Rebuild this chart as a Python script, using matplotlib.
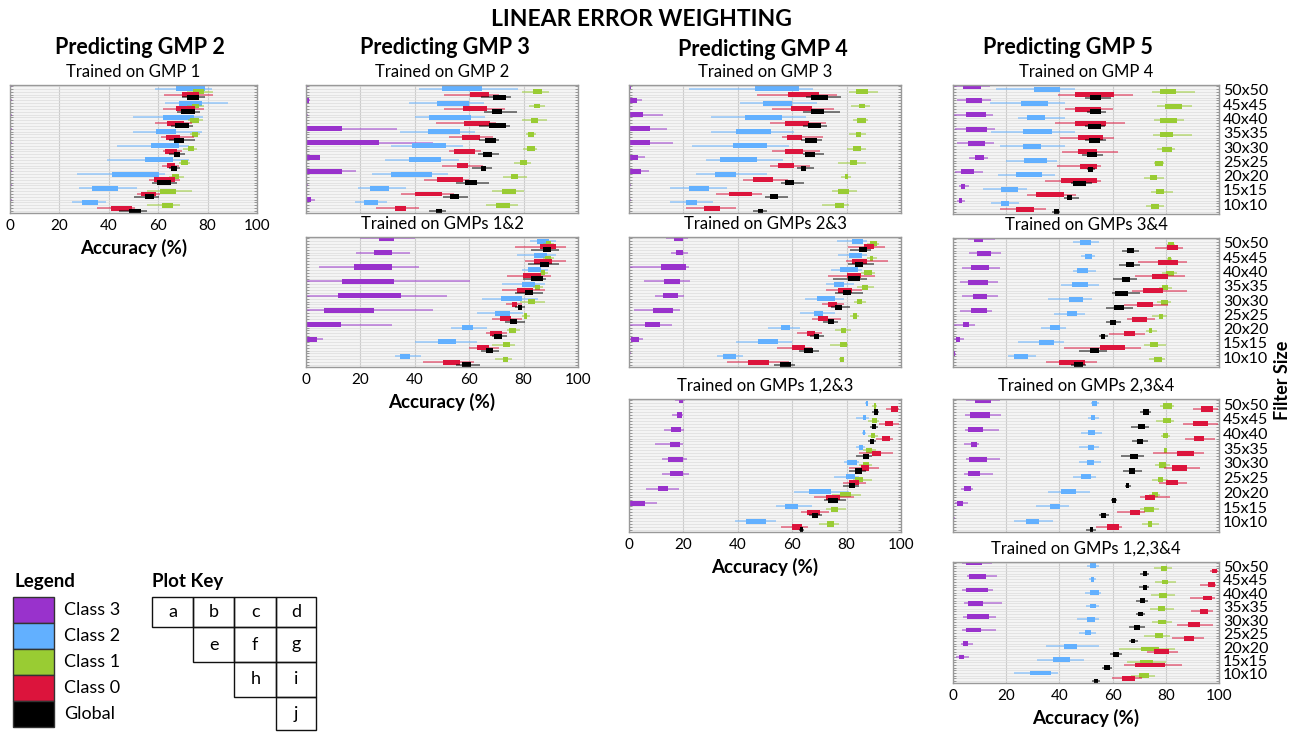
import matplotlib.pyplot as plt
from matplotlib.patches import Rectangle

plt.rcParams['font.family'] = ['Lato', 'DejaVu Sans']

W, H = 1299, 732

# filter sizes, listed top (50x50) to bottom (10x10)
sizes = ["50x50", "45x45", "40x40", "35x35", "30x30", "25x25", "20x20", "15x15", "10x10"]
classes = ["Class 3", "Class 2", "Class 1", "Class 0", "Global"]
colors = ["#9932cc", "#62b0ff", "#99cc33", "#dc143c", "#000000"]
ticks = [0, 20, 40, 60, 80, 100]

# each entry: (whisker low, q1, q3, whisker high), 50x50 first
tiny = (0, 0, 0.5, 0.8)

gmp2_on1 = {
    "Class 3": [tiny] * 9,
    "Class 2": [(58.9, 67.2, 78.8, 81.7), (62.6, 68.5, 77.7, 88.2), (49.9, 61.8, 74.3, 78.1),
                (49.9, 59.3, 67.2, 77.7), (43.4, 56.9, 68.3, 72.3), (39.1, 54.8, 66.0, 72.3),
                (27.0, 41.1, 60.2, 62.9), (28.0, 33.3, 43.7, 51.5), (25.0, 29.0, 35.8, 38.7)],
    "Class 1": [(71.6, 74.0, 78.4, 82.0), (71.6, 73.7, 76.7, 78.4), (72.0, 73.0, 76.5, 78.1),
                (73.0, 73.7, 76.0, 77.0), (70.0, 72.0, 74.3, 75.7), (68.3, 69.4, 72.0, 72.7),
                (64.2, 65.6, 68.5, 70.3), (55.5, 60.9, 67.2, 73.7), (55.5, 61.6, 66.0, 69.0)],
    "Class 0": [(62.2, 69.6, 76.7, 82.1), (62.0, 67.2, 75.0, 78.4), (58.9, 63.6, 70.3, 73.7),
                (61.3, 63.2, 69.0, 74.3), (61.8, 62.9, 67.6, 69.6), (61.6, 63.6, 66.9, 68.3),
                (56.2, 58.2, 66.9, 69.0), (51.5, 53.2, 59.3, 60.9), (35.3, 40.7, 49.5, 50.8)],
    "Global": [(69.6, 71.6, 76.6, 79.0), (67.6, 69.2, 75.0, 77.0), (65.0, 66.9, 72.3, 74.0),
               (64.2, 66.5, 70.3, 75.0), (64.2, 66.3, 69.0, 71.0), (64.2, 65.0, 67.6, 69.0),
               (57.5, 59.5, 65.0, 67.6), (50.1, 54.8, 58.2, 60.2), (44.1, 48.1, 53.1, 55.5)],
}

gmp3_on2 = {
    "Class 3": [tiny, (0, 0, 1.0, 1.5), tiny, (0, 0, 13.3, 33.4), (0, 0, 26.8, 46.6),
                (0, 0, 5.1, 5.1), (0, 0, 13.3, 18.3), tiny, (0, 0, 1.7, 3.3)],
    "Class 2": [(41.5, 49.9, 64.6, 77.9), (37.8, 48.0, 60.0, 65.5), (39.9, 45.1, 60.6, 65.7),
                (34.4, 44.8, 56.6, 62.2), (31.3, 38.8, 51.5, 57.8), (28.9, 38.0, 49.6, 56.3),
                (24.4, 31.3, 46.2, 52.3), (19.1, 23.7, 30.4, 36.6), (17.9, 21.2, 26.5, 29.9)],
    "Class 1": [(79.3, 83.5, 86.8, 89.3), (82.0, 84.0, 86.2, 88.0), (79.3, 82.6, 85.4, 88.7),
                (81.0, 81.7, 83.8, 84.4), (79.9, 81.1, 84.1, 85.0), (76.5, 78.5, 81.3, 82.9),
                (72.4, 75.5, 77.9, 81.1), (68.2, 72.2, 77.3, 80.1), (66.3, 69.8, 74.9, 77.9)],
    "Class 0": [(50.9, 60.2, 67.3, 71.0), (50.9, 57.9, 66.5, 73.0), (47.8, 58.2, 67.6, 69.8),
                (52.4, 57.2, 63.9, 68.9), (52.7, 54.5, 62.2, 64.3), (50.0, 55.5, 59.6, 64.9),
                (43.2, 48.0, 57.9, 60.0), (34.8, 40.1, 49.9, 54.5), (25.9, 32.6, 36.6, 41.7)],
    "Global": [(64.3, 68.9, 73.7, 75.2), (65.5, 68.5, 72.2, 77.7), (63.7, 67.3, 73.4, 74.9),
               (63.7, 65.9, 70.0, 71.0), (63.3, 64.9, 68.3, 71.0), (61.2, 64.3, 66.3, 68.3),
               (55.1, 58.5, 63.0, 67.1), (50.2, 53.0, 56.3, 59.4), (45.1, 47.8, 49.9, 51.5)],
}

gmp4_on3 = {
    "Class 3": [(0, 0, 0.9, 0.9), (0, 0, 3.1, 4.6), (0, 0, 5.2, 12.6), (0, 0, 7.7, 14.1),
                (0, 0, 7.7, 16.0), (0, 0, 3.3, 5.8), (0, 0, 4.3, 7.4), tiny, tiny],
    "Class 2": [(21.9, 46.3, 62.6, 67.5), (40.7, 49.4, 59.8, 69.0), (30.1, 42.8, 56.4, 65.1),
                (30.1, 39.5, 52.3, 60.7), (23.1, 38.3, 50.9, 58.9), (28.3, 33.6, 46.9, 56.7),
                (24.7, 31.5, 39.5, 50.6), (15.1, 21.9, 29.3, 36.0), (15.1, 21.0, 24.9, 30.9)],
    "Class 1": [(80.9, 83.6, 87.9, 91.6), (81.7, 84.4, 86.7, 88.5), (82.3, 84.0, 87.0, 87.9),
                (80.9, 83.3, 85.4, 87.3), (80.1, 82.3, 85.2, 87.0), (76.8, 81.1, 83.8, 87.3),
                (78.0, 79.3, 80.5, 81.7), (74.7, 77.0, 80.9, 84.0), (71.0, 75.8, 79.0, 80.9)],
    "Class 0": [(46.9, 58.6, 70.0, 76.5), (52.5, 59.5, 67.2, 75.3), (51.9, 57.3, 66.3, 72.5),
                (56.2, 58.0, 63.6, 71.5), (52.5, 57.4, 63.8, 70.4), (51.7, 54.9, 60.5, 66.7),
                (41.9, 45.7, 53.0, 58.3), (32.1, 36.7, 45.1, 49.0), (21.0, 27.7, 33.6, 39.4)],
    "Global": [(65.1, 66.9, 73.1, 77.8), (63.8, 66.9, 71.6, 77.4), (63.8, 65.7, 70.6, 72.8),
               (63.2, 64.8, 69.1, 70.9), (63.8, 64.8, 68.4, 71.6), (61.7, 63.2, 65.1, 67.9),
               (55.8, 57.4, 60.7, 64.2), (49.9, 51.9, 54.9, 58.3), (45.7, 47.4, 49.4, 50.6)],
}

gmp5_on4 = {
    "Class 3": [(0.2, 3.7, 10.4, 13.8), (1.5, 4.9, 11.0, 14.4), (0.2, 4.9, 12.3, 15.1),
                (0.9, 4.9, 12.9, 15.7), (1.5, 5.6, 12.0, 15.3), (6.2, 8.3, 11.6, 13.2),
                (0.9, 3.1, 7.9, 11.1), (2.1, 3.0, 4.6, 6.2), (1.5, 2.1, 3.3, 4.6)],
    "Class 2": [(16.0, 30.5, 40.4, 45.9), (13.8, 25.6, 35.7, 42.2), (24.3, 27.8, 34.4, 42.2),
                (14.4, 26.4, 37.3, 45.9), (17.5, 26.2, 33.2, 42.2), (20.0, 26.8, 35.4, 39.1),
                (16.9, 23.5, 33.6, 38.5), (11.4, 18.1, 24.3, 27.7), (14.1, 17.9, 20.9, 24.9)],
    "Class 1": [(74.9, 77.8, 84.0, 91.0), (76.8, 79.6, 86.0, 89.8), (75.6, 78.0, 84.2, 86.7),
                (75.3, 77.8, 82.7, 89.8), (76.8, 78.6, 82.3, 83.6), (75.6, 75.9, 78.9, 79.3),
                (71.9, 74.0, 76.8, 79.3), (74.3, 76.4, 79.3, 82.7), (72.5, 74.3, 77.4, 79.3)],
    "Class 0": [(39.5, 45.7, 60.7, 67.8), (42.0, 45.7, 55.6, 60.1), (38.3, 45.7, 57.4, 64.8),
                (40.4, 46.9, 56.4, 60.7), (41.0, 46.9, 54.0, 62.0), (39.1, 47.8, 54.0, 55.8),
                (34.6, 40.7, 54.0, 55.8), (27.7, 31.1, 41.6, 46.2), (17.5, 23.7, 30.5, 34.8)],
    "Global": [(49.6, 51.5, 55.6, 59.5), (50.2, 51.5, 55.8, 57.7), (49.6, 50.6, 55.6, 57.0),
               (49.6, 51.1, 55.2, 57.7), (48.4, 50.2, 54.3, 56.4), (50.2, 50.6, 52.7, 53.3),
               (44.4, 45.3, 49.9, 52.1), (41.6, 42.8, 44.7, 47.2), (37.3, 37.9, 39.8, 40.4)],
}

gmp3_on12 = {
    "Class 3": [(20.0, 26.9, 32.5, 40.1), (18.4, 25.1, 31.7, 38.1), (4.8, 17.5, 31.7, 41.7),
                (0.0, 13.3, 32.5, 60.2), (0.0, 11.8, 34.9, 51.8), (0.0, 6.7, 25.1, 46.7),
                (0.0, 0.0, 13.0, 31.7), (0.0, 0.0, 4.0, 6.4), (0.0, 0.0, 0.3, 0.5)],
    "Class 2": [(82.3, 85.1, 89.5, 91.9), (77.5, 83.9, 88.7, 91.9), (79.3, 81.7, 86.5, 88.9),
                (72.0, 79.3, 84.3, 87.7), (64.8, 71.8, 79.3, 85.3), (63.0, 69.6, 75.1, 79.9),
                (53.4, 57.3, 61.4, 66.6), (40.1, 48.6, 55.2, 63.0), (32.7, 34.7, 38.1, 42.3)],
    "Class 1": [(87.1, 88.3, 90.1, 91.3), (87.1, 87.9, 89.9, 91.3), (85.9, 86.5, 88.0, 88.9),
                (83.5, 84.3, 85.9, 87.1), (78.7, 81.7, 84.1, 87.7), (79.3, 80.1, 81.3, 82.3),
                (73.8, 74.8, 77.1, 78.7), (68.4, 72.3, 75.1, 76.9), (69.6, 72.3, 74.1, 75.7)],
    "Class 0": [(76.9, 85.9, 91.9, 95.5), (80.5, 83.9, 90.4, 95.5), (73.9, 79.9, 86.5, 90.1),
                (72.0, 77.7, 83.5, 87.9), (73.5, 75.9, 77.7, 79.3), (68.4, 71.2, 75.4, 79.3),
                (66.0, 67.5, 72.0, 73.9), (60.0, 62.7, 67.2, 70.8), (42.9, 50.4, 56.6, 61.8)],
    "Global": [(82.9, 87.1, 89.9, 93.1), (81.7, 85.9, 89.5, 93.1), (79.9, 82.7, 87.1, 88.3),
               (76.9, 80.5, 83.5, 87.1), (76.9, 77.8, 79.5, 80.5), (73.3, 75.1, 77.7, 80.5),
               (68.4, 69.3, 72.0, 73.9), (64.2, 66.3, 68.7, 70.8), (55.2, 57.2, 60.8, 64.0)],
}

gmp4_on23 = {
    "Class 3": [(13.6, 16.6, 20.0, 21.6), (15.4, 17.4, 19.8, 21.6), (0.0, 11.8, 20.8, 22.2),
                (5.4, 13.0, 18.8, 22.4), (9.6, 12.4, 18.0, 20.4), (1.8, 9.0, 16.2, 18.6),
                (0.0, 5.8, 11.4, 15.8), (0.0, 0.6, 3.8, 5.2), (0.0, 0.0, 0.4, 0.6)],
    "Class 2": [(76.6, 82.0, 86.1, 87.6), (76.8, 80.7, 85.8, 87.6), (74.4, 77.7, 84.3, 85.8),
                (72.6, 75.4, 78.9, 82.6), (64.8, 69.3, 75.9, 79.2), (63.0, 68.1, 71.4, 75.6),
                (51.0, 55.8, 59.1, 63.0), (39.4, 47.4, 54.9, 60.0), (32.4, 34.6, 39.4, 42.0)],
    "Class 1": [(87.6, 88.6, 91.0, 91.8), (87.6, 88.6, 89.8, 91.2), (85.2, 86.4, 89.4, 90.6),
                (84.0, 85.8, 87.9, 90.0), (82.6, 83.8, 85.5, 87.0), (81.4, 82.2, 83.8, 84.6),
                (75.6, 78.0, 79.6, 81.6), (73.8, 77.4, 80.2, 80.4), (77.1, 77.7, 78.9, 79.2)],
    "Class 0": [(80.4, 86.4, 90.0, 94.2), (79.6, 81.9, 87.6, 95.4), (73.2, 80.1, 85.2, 90.6),
                (72.3, 76.8, 81.9, 85.8), (70.8, 73.0, 76.6, 79.2), (67.2, 69.4, 73.2, 78.0),
                (61.8, 65.4, 68.2, 70.8), (54.4, 60.0, 64.8, 67.2), (36.0, 43.6, 51.4, 58.8)],
    "Global": [(81.4, 84.6, 87.6, 88.8), (80.4, 83.1, 86.2, 90.0), (75.0, 80.4, 85.0, 87.6),
               (75.6, 78.6, 81.6, 86.2), (74.4, 75.9, 78.4, 81.4), (71.4, 73.2, 75.4, 76.8),
               (66.6, 68.1, 69.9, 71.8), (62.4, 64.5, 67.8, 69.9), (53.4, 55.6, 59.7, 61.2)],
}

gmp5_on34 = {
    "Class 3": [(5.8, 8.0, 11.4, 15.8), (6.2, 9.2, 14.2, 17.9), (3.4, 6.8, 13.7, 17.6),
                (2.5, 5.6, 13.3, 17.0), (3.4, 7.7, 12.7, 17.0), (2.5, 6.8, 12.7, 14.5),
                (0.2, 3.7, 6.2, 8.3), (0.0, 1.1, 2.7, 4.2), (0.0, 0.0, 0.9, 1.0)],
    "Class 2": [(45.0, 47.8, 51.8, 54.9), (48.1, 49.6, 52.2, 53.2), (45.0, 46.8, 50.9, 53.7),
                (40.6, 44.7, 50.9, 54.9), (35.7, 43.7, 48.9, 52.2), (37.8, 42.9, 46.8, 49.7),
                (33.2, 36.6, 40.2, 42.5), (24.5, 32.5, 37.8, 41.9), (20.7, 22.9, 28.2, 31.3)],
    "Class 1": [(80.4, 81.0, 82.9, 83.5), (80.6, 81.0, 82.0, 82.5), (78.5, 80.1, 83.2, 84.1),
                (77.3, 78.5, 81.0, 82.2), (76.6, 78.3, 80.7, 82.0), (74.8, 77.3, 79.1, 80.4),
                (72.5, 73.5, 74.8, 76.6), (71.7, 74.2, 77.0, 80.0), (73.5, 75.7, 78.5, 79.8)],
    "Class 0": [(75.8, 80.4, 84.5, 86.6), (69.6, 76.9, 84.7, 87.8), (68.3, 74.8, 81.0, 87.2),
                (67.3, 71.3, 78.8, 87.8), (64.2, 69.3, 75.2, 81.0), (65.5, 67.3, 72.9, 75.8),
                (58.6, 64.2, 68.3, 72.3), (41.9, 55.3, 64.6, 70.8), (35.0, 39.8, 49.7, 54.3)],
    "Global": [(63.4, 65.5, 68.0, 69.8), (62.4, 65.2, 68.0, 70.2), (60.1, 63.6, 66.5, 69.2),
               (59.6, 60.9, 65.8, 70.4), (57.4, 60.7, 64.2, 67.7), (57.4, 59.0, 61.1, 63.0),
               (54.7, 55.5, 57.1, 58.4), (47.5, 51.6, 54.9, 58.0), (44.3, 45.6, 48.7, 49.9)],
}

gmp4_on123 = {
    "Class 3": [(17.0, 18.2, 19.8, 20.7), (15.7, 17.6, 19.4, 19.8), (13.0, 15.5, 19.2, 20.4),
                (9.6, 15.1, 18.8, 20.0), (12.1, 14.5, 19.7, 21.3), (12.1, 15.1, 19.8, 21.9),
                (6.2, 10.6, 14.5, 18.2), (0.0, 0.0, 5.7, 10.2), (0.0, 0.0, 0.3, 0.5)],
    "Class 2": [(86.8, 87.1, 87.7, 88.0), (83.6, 85.9, 87.3, 88.3), (85.8, 86.1, 86.7, 87.0),
                (83.4, 84.4, 85.9, 86.8), (79.1, 80.3, 84.0, 84.6), (75.4, 79.7, 83.1, 84.4),
                (60.6, 66.2, 74.4, 80.9), (53.9, 57.2, 62.1, 67.4), (39.1, 43.0, 50.4, 53.9)],
    "Class 1": [(89.5, 89.9, 90.8, 91.2), (87.7, 89.3, 91.0, 92.0), (87.7, 88.9, 90.5, 91.4),
                (85.9, 87.1, 89.3, 90.8), (84.6, 85.9, 88.3, 89.5), (82.2, 83.1, 86.1, 89.5),
                (74.8, 77.6, 81.8, 85.2), (72.3, 74.2, 77.0, 79.7), (69.9, 72.9, 75.4, 77.2)],
    "Class 0": [(94.5, 96.3, 98.8, 99.4), (92.0, 94.2, 96.9, 99.4), (90.8, 93.0, 95.9, 96.9),
                (84.6, 89.5, 92.6, 97.2), (80.9, 85.2, 88.3, 92.0), (78.5, 80.7, 84.4, 87.1),
                (68.0, 72.6, 77.5, 82.8), (63.1, 65.6, 70.2, 73.6), (55.7, 60.0, 63.5, 65.9)],
    "Global": [(89.3, 90.2, 91.4, 92.0), (88.6, 89.5, 90.8, 91.4), (87.7, 88.6, 90.2, 90.8),
               (83.6, 85.9, 88.1, 89.5), (80.9, 83.1, 85.6, 87.1), (78.5, 80.7, 83.1, 84.4),
               (71.7, 73.3, 77.0, 79.7), (66.2, 67.4, 69.5, 71.1), (62.5, 62.7, 64.0, 64.3)],
}

gmp5_on234 = {
    "Class 3": [(5.0, 8.3, 14.2, 17.6), (4.6, 6.5, 13.9, 18.0), (4.6, 5.8, 11.4, 17.4),
                (4.2, 6.7, 8.9, 9.9), (5.0, 6.2, 12.9, 17.6), (4.0, 5.6, 10.2, 15.2),
                (3.1, 4.2, 6.8, 7.7), (0.9, 1.5, 3.7, 5.8), (0.0, 0.0, 0.4, 0.6)],
    "Class 2": [(51.8, 52.4, 54.3, 55.0), (50.6, 51.8, 53.4, 54.9), (48.1, 50.8, 53.3, 55.9),
                (47.5, 50.6, 53.0, 54.9), (47.5, 50.3, 53.0, 55.5), (45.0, 48.1, 51.8, 53.7),
                (35.7, 40.6, 46.2, 51.4), (31.3, 36.3, 40.2, 43.7), (22.9, 27.6, 32.5, 37.5)],
    "Class 1": [(77.9, 78.8, 82.2, 83.2), (76.4, 78.9, 82.0, 82.9), (78.3, 79.1, 81.0, 81.6),
                (79.2, 79.4, 80.4, 80.6), (76.0, 77.3, 80.0, 81.6), (74.8, 76.9, 79.1, 81.0),
                (73.5, 74.8, 76.9, 77.9), (70.4, 71.7, 75.4, 77.3), (71.0, 73.2, 74.8, 77.3)],
    "Class 0": [(90.3, 93.4, 97.8, 99.6), (86.6, 90.3, 95.7, 99.6), (87.2, 90.7, 94.3, 98.4),
                (75.2, 84.3, 90.6, 94.4), (79.5, 82.5, 87.8, 92.8), (77.3, 80.1, 84.5, 87.8),
                (70.4, 72.3, 76.0, 81.6), (61.7, 66.5, 70.2, 72.3), (53.7, 57.8, 62.4, 63.6)],
    "Global": [(70.4, 71.3, 73.5, 74.5), (67.1, 69.6, 72.0, 73.5), (67.3, 69.2, 71.3, 73.3),
               (63.0, 66.7, 69.6, 71.7), (63.9, 66.1, 68.6, 71.1), (64.6, 65.1, 66.3, 67.0),
               (59.3, 59.6, 61.1, 61.7), (54.7, 55.8, 57.4, 58.6), (49.9, 51.4, 52.8, 53.7)],
}

gmp5_on1234 = {
    "Class 3": [(3.4, 5.0, 10.8, 14.5), (5.2, 6.2, 12.4, 16.4), (3.4, 5.0, 13.0, 15.2),
                (4.0, 5.6, 11.2, 18.3), (3.7, 5.2, 13.7, 16.1), (3.4, 5.0, 10.6, 16.1),
                (3.0, 3.7, 5.5, 7.7), (1.2, 2.1, 4.3, 6.2), (0.0, 0.0, 0.2, 0.4)],
    "Class 2": [(50.4, 51.4, 53.7, 54.7), (51.2, 51.8, 53.0, 53.7), (49.7, 51.4, 54.9, 55.5),
                (50.0, 51.6, 53.9, 54.7), (46.8, 50.3, 53.4, 54.7), (47.2, 49.7, 51.8, 53.7),
                (34.8, 41.9, 46.8, 54.9), (31.7, 37.5, 44.1, 49.1), (22.9, 28.8, 36.9, 39.4)],
    "Class 1": [(75.4, 78.3, 80.4, 82.2), (76.0, 78.5, 81.0, 83.7), (74.5, 77.3, 80.4, 83.5),
                (74.2, 76.9, 79.8, 82.9), (74.8, 76.9, 80.1, 82.2), (71.7, 75.8, 78.8, 81.6),
                (62.4, 70.8, 77.3, 83.5), (65.5, 70.2, 75.2, 80.0), (67.1, 69.8, 73.5, 76.0)],
    "Class 0": [(96.5, 97.5, 99.4, 99.6), (92.8, 95.9, 98.4, 99.0), (89.1, 93.8, 97.4, 98.4),
                (89.4, 92.8, 95.7, 97.8), (84.1, 88.4, 93.0, 97.8), (82.2, 87.0, 90.7, 94.4),
                (72.9, 75.4, 81.2, 84.7), (64.2, 68.6, 79.8, 86.0), (59.9, 63.4, 68.3, 71.1)],
    "Global": [(70.4, 71.3, 72.9, 73.8), (69.8, 71.3, 72.9, 73.5), (68.8, 70.4, 72.3, 73.3),
               (68.8, 69.6, 71.3, 72.3), (66.1, 68.0, 70.4, 72.3), (66.1, 67.1, 68.6, 69.6),
               (58.9, 60.2, 62.4, 63.6), (55.9, 56.8, 58.9, 59.9), (52.4, 53.0, 54.5, 55.3)],
}

# panel: data, pixel box (left, top, right, bottom), subtitle, x labels?, size labels?
panels = [
    (gmp2_on1, (10, 85, 257, 213), "Trained on GMP 1", True, False),
    (gmp3_on2, (306, 85, 578, 213), "Trained on GMP 2", False, False),
    (gmp4_on3, (629, 85, 901, 213), "Trained on GMP 3", False, False),
    (gmp5_on4, (953, 85, 1219, 214), "Trained on GMP 4", False, True),
    (gmp3_on12, (306, 237, 578, 367), "Trained on GMPs 1&2", True, False),
    (gmp4_on23, (629, 237, 901, 367), "Trained on GMPs 2&3", False, False),
    (gmp5_on34, (953, 238, 1219, 367), "Trained on GMPs 3&4", False, True),
    (gmp4_on123, (629, 399, 901, 532), "Trained on GMPs 1,2&3", True, False),
    (gmp5_on234, (953, 399, 1219, 532), "Trained on GMPs 2,3&4", False, True),
    (gmp5_on1234, (953, 562, 1219, 683), "Trained on GMPs 1,2,3&4", True, True),
]


def rect(l, t, r, b):
    return [l / W, 1 - b / H, (r - l) / W, (b - t) / H]


def ftext(x, y, s, **kw):
    fig.text(x / W, 1 - y / H, s, ha=kw.pop("ha", "center"), va=kw.pop("va", "center"), **kw)


fig = plt.figure(figsize=(W / 100, H / 100), dpi=100)

n = len(sizes)
for data, box, subtitle, xlab, ylab in panels:
    ax = fig.add_axes(rect(*box))
    ax.set_facecolor("#f4f4f4")
    for k, (cls, col) in enumerate(zip(classes, colors)):
        stats, pos = [], []
        for i, (lo, q1, q3, hi) in enumerate(data[cls]):
            stats.append(dict(whislo=lo, q1=q1, med=(q1 + q3) / 2, q3=q3, whishi=hi))
            pos.append((n - 1 - i) * 5 + 4 - k)
        ax.bxp(stats, positions=pos, widths=1.75, orientation="horizontal",
               patch_artist=True, showcaps=False, showfliers=False, manage_ticks=False,
               boxprops=dict(facecolor=col, edgecolor="none"),
               whiskerprops=dict(color=col, alpha=0.5, lw=1.4, solid_capstyle="butt"),
               medianprops=dict(linewidth=0))
    ax.set_xlim(0, 100)
    ax.set_ylim(-0.7, 44.4)
    ax.set_xticks(ticks)
    ax.set_yticks([(n - 1 - i) * 5 + 2.7 for i in range(n)])
    ax.set_yticks(range(45), minor=True)
    ax.grid(axis="x", which="major", color="#cccccc", lw=0.8)
    ax.grid(axis="y", which="minor", color="#dcdcdc", lw=0.5)
    ax.set_axisbelow(True)
    ax.tick_params(axis="x", length=0, labelsize=11, pad=4, labelbottom=xlab)
    ax.tick_params(axis="y", which="major", length=0, left=False, labelleft=False,
                   labelright=ylab, labelsize=11.5, pad=3)
    ax.tick_params(axis="y", which="minor", left=True, right=True, direction="in",
                   length=2, width=0.5, color="#777777")
    if ylab:
        ax.set_yticklabels(sizes)
    else:
        ax.set_yticklabels([])
    for s in ax.spines.values():
        s.set_color("#999999")
        s.set_linewidth(1)
    cx = (box[0] + box[2]) / 2
    ftext(cx, box[1] - 13, subtitle, fontsize=12)
    if xlab:
        ftext(cx, box[3] + 35, "Accuracy (%)", fontsize=13.5, fontweight="bold")

ftext(641, 20, "LINEAR ERROR WEIGHTING", fontsize=16.5, fontweight="bold")
ftext(140, 47, "Predicting GMP 2", fontsize=15.5, fontweight="bold")
ftext(445, 47, "Predicting GMP 3", fontsize=15.5, fontweight="bold")
ftext(763, 49, "Predicting GMP 4", fontsize=15.5, fontweight="bold")
ftext(1068, 48, "Predicting GMP 5", fontsize=15.5, fontweight="bold")
ftext(1283, 380, "Filter Size", fontsize=13, fontweight="bold", rotation=90)

# legend and plot key, drawn in pixel space
key = fig.add_axes([0, 0, 1, 1])
key.set_xlim(0, W)
key.set_ylim(H, 0)
key.axis("off")

ftext(14, 582, "Legend", fontsize=13.5, fontweight="bold", ha="left")
for i, (cls, col) in enumerate(zip(classes, colors)):
    top = 597 + i * 26
    key.add_patch(Rectangle((13, top), 41, 26, facecolor=col, edgecolor="#333333", lw=1))
    ftext(64, top + 13, cls, fontsize=13, ha="left")

ftext(152, 582, "Plot Key", fontsize=13.5, fontweight="bold", ha="left")
key_cells = [["a", "b", "c", "d"], ["", "e", "f", "g"], ["", "", "h", "i"], ["", "", "", "j"]]
col_x = [152, 193, 234.5, 276, 316]
row_y = [597, 627, 662, 697, 730]
for r, row in enumerate(key_cells):
    for c, letter in enumerate(row):
        if not letter:
            continue
        key.add_patch(Rectangle((col_x[c], row_y[r]), col_x[c + 1] - col_x[c],
                                row_y[r + 1] - row_y[r], facecolor="none",
                                edgecolor="#111111", lw=1))
        ftext((col_x[c] + col_x[c + 1]) / 2, (row_y[r] + row_y[r + 1]) / 2, letter,
              fontsize=13)

fig.savefig("out.png", dpi=100)
